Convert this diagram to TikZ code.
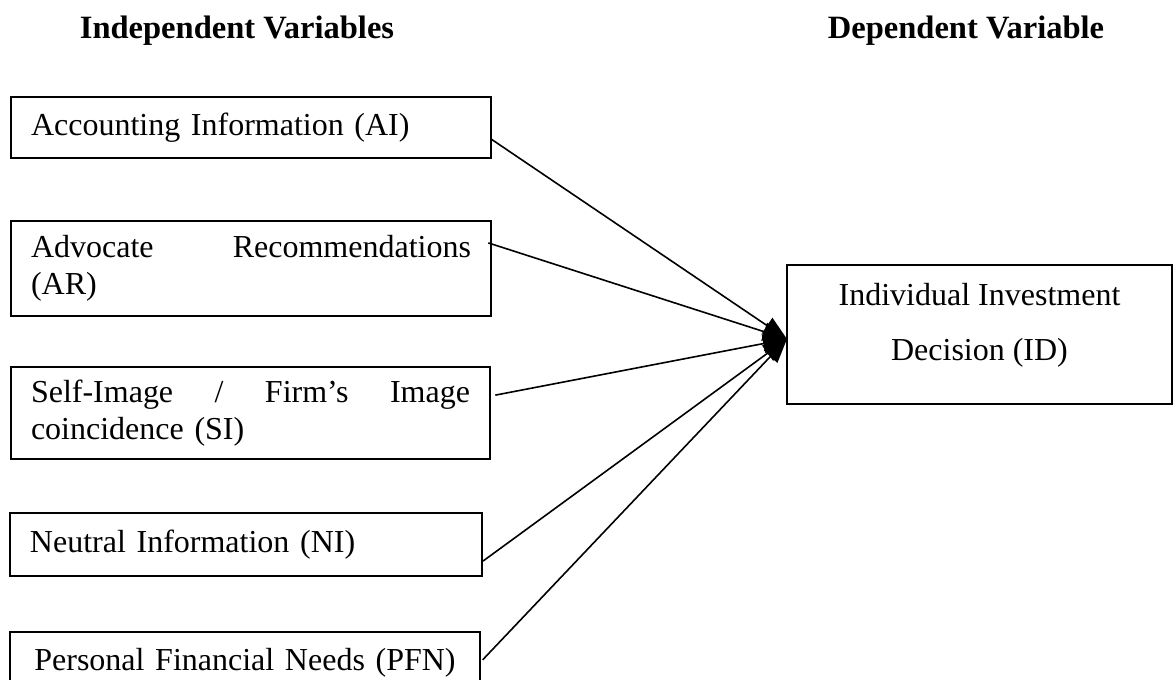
\documentclass[tikz,border=0pt]{standalone}
\usepackage{fontspec}
\setmainfont{Liberation Serif}
\usetikzlibrary{arrows.meta}
\begin{document}
\begin{tikzpicture}[x=0.375pt,y=-0.375pt,inner sep=0pt,outer sep=0pt,
font=\fontsize{12}{13.8}\selectfont,
varbox/.style={draw,rectangle,line width=0.75pt,inner xsep=7.5pt,text width=165pt,align=left},
link/.style={line width=0.6pt,-{Triangle[length=9pt,width=7pt]}}]
\useasboundingbox (0,0) rectangle (1174,680);
\draw (237,31) node[font=\fontsize{12.2}{14}\bfseries] (indep) {Independent Variables};
\draw (966,31) node[font=\fontsize{12.2}{14}\bfseries] (dep) {Dependent Variable};

\draw (251,127.5) node[varbox,minimum height=22.9pt] (AI) {Accounting Information (AI)};
\draw (251,268.5) node[varbox,minimum height=35.6pt] (AR) {Advocate\hfill Recommendations\\(AR)};
\draw (250.5,413) node[varbox,minimum height=34.5pt,text width=164.6pt] (SI) {Self-Image\hfill /\hfill Firm’s\hfill Image\\coincidence (SI)};
\draw (246,544.5) node[varbox,minimum height=23.6pt,text width=162pt] (NI) {Neutral Information (NI)};
\draw (245,662.5) node[varbox,minimum height=22.9pt,text width=161.25pt,align=center] (PFN) {Personal Financial Needs (PFN)};
\draw (979.5,334.5) node[draw,rectangle,line width=0.75pt,minimum width=144.4pt,minimum height=52.1pt,
  align=center,font=\fontsize{12}{20.6}\selectfont,text depth=9.2pt] (ID) {Individual Investment\\Decision (ID)};

\draw[link] ([yshift=-4.3pt]AI.east) -- ([yshift=-1.7pt]ID.west);
\draw[link] ([xshift=-1pt,yshift=9.6pt]AR.east) -- ([yshift=-1.7pt]ID.west);
\draw[link] ([xshift=2pt,yshift=6.7pt]SI.east) -- ([yshift=-1.7pt]ID.west);
\draw[link] ([xshift=0.4pt,yshift=-6.2pt]NI.east) -- ([yshift=-1.7pt]ID.west);
\draw[link] ([xshift=1pt,yshift=1pt]PFN.east) -- ([yshift=-1.7pt]ID.west);
\end{tikzpicture}
\end{document}
